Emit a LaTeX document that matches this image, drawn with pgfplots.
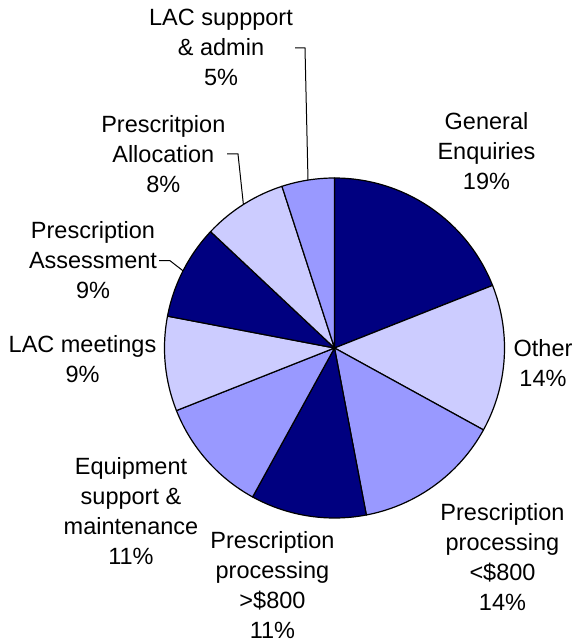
\documentclass[border=0pt]{standalone}
\usepackage{fontspec}
\setmainfont{Liberation Sans}
\usepackage{pgfplots}
\pgfplotsset{compat=1.18}
\definecolor{navy}{RGB}{0,0,128}
\definecolor{lav}{RGB}{204,204,255}
\definecolor{peri}{RGB}{153,153,255}
% #1 = cumulative percent before the slice, #2 = slice percent, #3 = colour
\newcommand{\slice}[3]{%
  \addplot[fill=#3, draw=black, line width=0.6pt, line join=round,
    domain={90-3.6*(#1+#2)}:{90-3.6*(#1)}, samples=60]
    ({334.5+170*cos(x)},{-348+170*sin(x)}) -- (axis cs:334.5,-348) -- cycle;}
\tikzset{lab/.style={align=center, anchor=north, inner sep=0pt,
  font=\fontsize{11.75}{15}\selectfont}}
\begin{document}
\begin{tikzpicture}
\begin{axis}[hide axis, scale only axis, width=287pt, height=321.5pt,
  xmin=0, xmax=574, ymin=-643, ymax=0, clip=false]
\path (rel axis cs:0,0) rectangle (rel axis cs:1,1);
\slice{0}{19}{navy}
\slice{19}{14}{lav}
\slice{33}{14}{peri}
\slice{47}{11}{navy}
\slice{58}{11}{peri}
\slice{69}{9}{lav}
\slice{78}{9}{navy}
\slice{87}{8}{lav}
\slice{95}{5}{peri}
\node[lab] at (axis cs:221,-9) {LAC suppport\\\& admin\\5\%};
\node[lab] at (axis cs:163.3,-115) {Prescritpion\\Allocation\\8\%};
\node[lab] at (axis cs:93,-220.7) {Prescription\\Assessment\\9\%};
\node[lab] at (axis cs:82.5,-335) {LAC meetings\\9\%};
\node[lab] at (axis cs:131,-456.7) {Equipment\\support \&\\maintenance\\11\%};
\node[lab] at (axis cs:272.5,-531) {Prescription\\processing\\>\$800\\11\%};
\node[lab] at (axis cs:502.5,-502.7) {Prescription\\processing\\<\$800\\14\%};
\node[lab] at (axis cs:543,-339.3) {Other\\14\%};
\node[lab] at (axis cs:486.5,-112.3) {General\\Enquiries\\19\%};
\draw[line width=0.5pt] (axis cs:295,-48) -- (axis cs:305,-48) -- (axis cs:308,-180);
\draw[line width=0.5pt] (axis cs:227,-154) -- (axis cs:238,-154) -- (axis cs:243.4,-204.5);
\draw[line width=0.5pt] (axis cs:159,-260.7) -- (axis cs:170,-260.7) -- (axis cs:183,-270.8);
\end{axis}
\end{tikzpicture}
\end{document}
